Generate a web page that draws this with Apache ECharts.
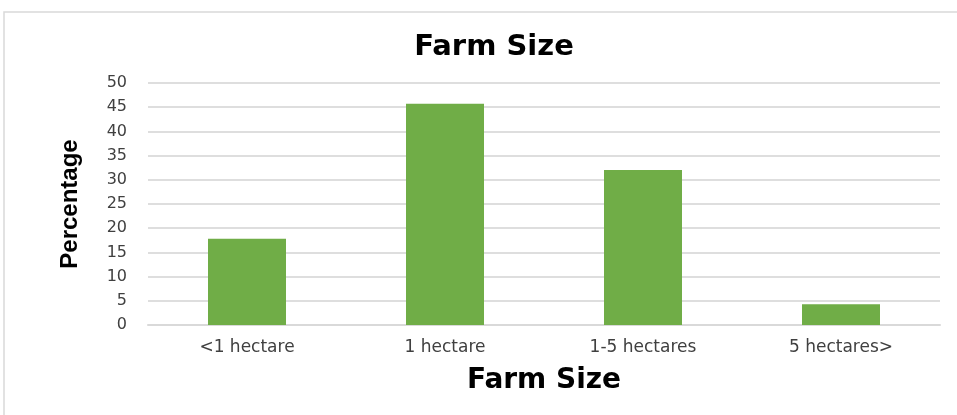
<!DOCTYPE html>
<html>
<head>
<meta charset="utf-8">
<script src="https://cdn.jsdelivr.net/npm/echarts@6/dist/echarts.min.js"></script>
<style>
  html, body { margin: 0; padding: 0; background: #ffffff; }
  #chart { width: 957px; height: 415px; }
</style>
</head>
<body>
<div id="chart"></div>
<script>
// Share of farms in each size class (%)
const categories = ['<1 hectare', '1 hectare', '1-5 hectares', '5 hectares>'];
const percentages = [17.8, 45.7, 32.0, 4.3];
const yTicks = { min: 0, max: 50, interval: 5 };

const chart = echarts.init(document.getElementById('chart'), null, { renderer: 'canvas' });

chart.setOption({
  backgroundColor: '#ffffff',
  animation: false,
  graphic: [{
    type: 'rect',
    silent: true,
    shape: { x: 4, y: 12, width: 1000, height: 500 },
    style: { fill: 'none', stroke: '#d9d9d9', lineWidth: 1.5 }
  }],
  title: {
    text: 'Farm Size',
    left: 489,
    top: 28,
    textAlign: 'center',
    textStyle: {
      fontFamily: 'DejaVu Sans',
      fontWeight: 'bold',
      fontSize: 29,
      color: '#000000'
    }
  },
  grid: { left: 148, right: 17, top: 83, bottom: 90 },
  xAxis: {
    type: 'category',
    data: categories,
    name: 'Farm Size',
    nameLocation: 'middle',
    nameGap: 42,
    nameTextStyle: {
      fontFamily: 'DejaVu Sans',
      fontWeight: 'bold',
      fontSize: 28,
      color: '#000000'
    },
    axisLine: { lineStyle: { color: '#d9d9d9', width: 2 } },
    axisTick: { show: false },
    axisLabel: {
      margin: 14,
      fontFamily: 'DejaVu Sans',
      fontSize: 17,
      color: '#404040'
    }
  },
  yAxis: {
    type: 'value',
    min: yTicks.min,
    max: yTicks.max,
    interval: yTicks.interval,
    name: 'Percentage',
    nameLocation: 'middle',
    nameGap: 66,
    nameTextStyle: {
      fontFamily: '"Liberation Sans Narrow", "Liberation Sans", sans-serif',
      fontWeight: 'bold',
      fontSize: 24,
      color: '#000000'
    },
    axisLine: { show: false },
    axisTick: { show: false },
    splitLine: { lineStyle: { color: '#dedede', width: 2 } },
    axisLabel: {
      margin: 21,
      fontFamily: 'DejaVu Sans',
      fontSize: 16,
      color: '#404040'
    }
  },
  series: [{
    type: 'bar',
    data: percentages,
    barWidth: 78,
    itemStyle: { color: '#70ad47' }
  }]
});
</script>
</body>
</html>
